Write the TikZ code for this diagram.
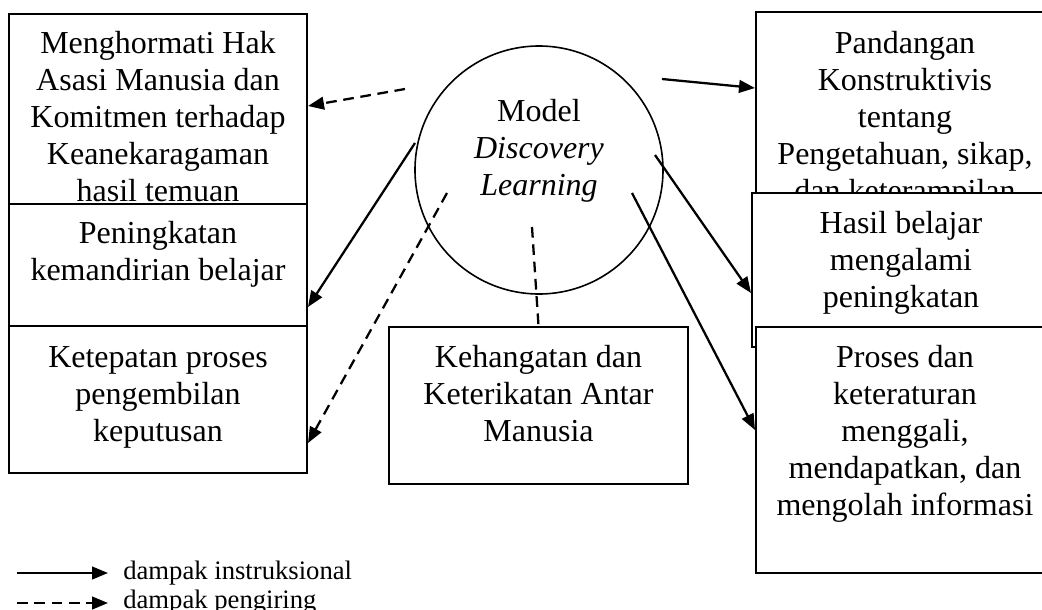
\documentclass[tikz,border=0pt]{standalone}
\usepackage{fontspec}
\setmainfont{Liberation Serif}
\usetikzlibrary{arrows.meta,fit}
\begin{document}
\begin{tikzpicture}[x=0.75pt,y=-0.75pt,
  box/.style={draw, line width=1.7pt, fill=white, inner sep=0pt},
  txt/.style={anchor=north, align=center, inner sep=0pt, font=\fontsize{24}{27.75}\selectfont},
  hub/.style={draw, circle, line width=1.2pt, minimum size=186pt, inner sep=0pt},
  instr/.style={line width=1.7pt, -{Triangle[length=12pt,width=9.5pt]}},
  iring/.style={line width=1.7pt, dash pattern=on 8pt off 5pt, -{Triangle[length=12pt,width=9.5pt]}},
  plain dash/.style={line width=1.7pt, dash pattern=on 8pt off 5pt},
  legtxt/.style={anchor=west, inner sep=0pt, font=\fontsize{20}{22.5}\selectfont}]
\path[use as bounding box] (0,0) rectangle (1042,610);
\clip (0,0) rectangle (1042,610);
\fill[white] (0,0) rectangle (1042,610);

% left column
\node[box, fit={(9,14) (307,204)}] (bA) {};
\node[txt] (tA) at (158,31.4) {Menghormati Hak\\Asasi Manusia dan\\Komitmen terhadap\\Keanekaragaman\\hasil temuan};
\node[box, fit={(9,204) (307,326)}] (bB) {};
\node[txt] (tB) at (158,221.4) {Peningkatan\\kemandirian belajar};
\node[box, fit={(9,326) (307,473)}] (bC) {};
\node[txt] (tC) at (158,346.4) {Ketepatan proses\\pengembilan\\keputusan};

% centre
\node[hub] (hub) at (539,170) {};
\node[txt] (tM) at (539,99.5) {Model\\\textit{Discovery}\\\textit{Learning}};
\node[box, fit={(389,327) (688,484)}] (bK) {};
\node[txt] (tK) at (538.5,345.4) {Kehangatan dan\\Keterikatan Antar\\Manusia};

% right column
\node[box, fit={(756,12) (1056,210)}] (bP) {};
\node[txt] (tP) at (905,31.4) {Pandangan\\Konstruktivis\\tentang\\Pengetahuan, sikap,\\dan keterampilan};
\node[box, fit={(752,193) (1052,347)}] (bH) {};
\node[txt] (tH) at (901,211.4) {Hasil belajar\\mengalami\\peningkatan};
\node[box, fit={(756,327) (1056,573)}] (bR) {};
\node[txt] (tR) at (905,345.4) {Proses dan\\keteraturan\\menggali,\\mendapatkan, dan\\mengolah informasi};

% connectors
\coordinate (s1) at (405,89);  \coordinate (e1) at (308,106);
\coordinate (s2) at (415,143); \coordinate (e2) at (308,307);
\coordinate (s3) at (447,193); \coordinate (e3) at (308,443);
\coordinate (s4) at (532,227);
\coordinate (s5) at (662,79);  \coordinate (e5) at (755,88);
\coordinate (s6) at (655,155); \coordinate (e6) at (751,293);
\coordinate (s7) at (632,193); \coordinate (e7) at (755,430);
\draw[iring] (s1) -- (e1);
\draw[instr] (s2) -- (e2);
\draw[iring] (s3) -- (e3);
\draw[plain dash] (s4) -- (bK.north);
\draw[instr] (s5) -- (e5);
\draw[instr] (s6) -- (e6);
\draw[instr] (s7) -- (e7);

% legend
\coordinate (l1a) at (17,573); \coordinate (l1b) at (108,573);
\coordinate (l2a) at (17,603); \coordinate (l2b) at (108,603);
\draw[instr] (l1a) -- (l1b);
\draw[iring] (l2a) -- (l2b);
\node[legtxt] (L1) at (123,573) {dampak instruksional};
\node[legtxt] (L2) at (123,602) {dampak pengiring};
\end{tikzpicture}
\end{document}
